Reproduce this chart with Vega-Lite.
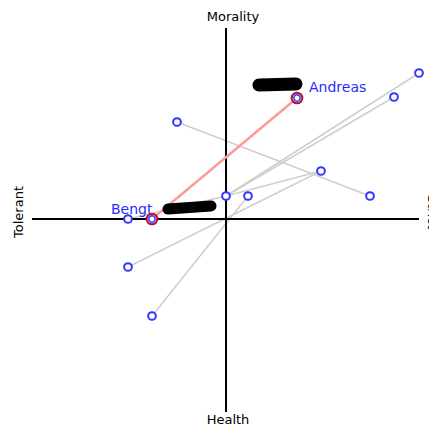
{
  "$schema": "https://vega.github.io/schema/vega-lite/v6.json",
  "width": 429,
  "height": 428,
  "autosize": "none",
  "padding": 0,
  "background": "white",
  "config": {"view": {"stroke": null}},
  "datasets": {
    "axes": [
      {"x": -1.94, "x2": 1.93, "y": 0, "y2": 0},
      {"x": 0, "x2": 0, "y": -1.93, "y2": 1.91}
    ],
    "links": [
      {"x": -0.49, "y": 0.97, "x2": 1.44, "y2": 0.23},
      {"x": -0.98, "y": -0.48, "x2": 0.95, "y2": 0.48},
      {"x": -0.74, "y": -0.97, "x2": 0.22, "y2": 0.23},
      {"x": 0.0, "y": 0.23, "x2": 0.95, "y2": 0.48},
      {"x": 0.0, "y": 0.23, "x2": 1.93, "y2": 1.46},
      {"x": 0.0, "y": 0.23, "x2": 1.68, "y2": 1.22},
      {"x": -0.98, "y": 0.0, "x2": 0.0, "y2": 0.23}
    ],
    "highlight": [
      {"x": -0.74, "y": 0.0, "x2": 0.71, "y2": 1.21}
    ],
    "redact": [
      {"x": 0.33, "y": 1.34, "x2": 0.70, "y2": 1.35, "w": 13},
      {"x": -0.58, "y": 0.10, "x2": -0.15, "y2": 0.13, "w": 11}
    ],
    "points": [
      {"x": -0.49, "y": 0.97},
      {"x": 1.44, "y": 0.23},
      {"x": 0.95, "y": 0.48},
      {"x": -0.98, "y": -0.48},
      {"x": -0.74, "y": -0.97},
      {"x": 0.22, "y": 0.23},
      {"x": -0.98, "y": 0.0},
      {"x": 0.0, "y": 0.23},
      {"x": 1.93, "y": 1.46},
      {"x": 1.68, "y": 1.22}
    ],
    "people": [
      {"name": "Bengt", "x": -0.74, "y": 0.0, "lx": -1.15, "ly": 0.05},
      {"name": "Andreas", "x": 0.71, "y": 1.21, "lx": 0.83, "ly": 1.27}
    ],
    "axislabels": [
      {"label": "Morality", "x": 0.07, "y": 2.02, "angle": 0},
      {"label": "Health", "x": 0.02, "y": -2.01, "angle": 0},
      {"label": "Tolerant", "x": -2.07, "y": 0.07, "angle": 270},
      {"label": "Strict", "x": 2.06, "y": 0.07, "angle": 90}
    ]
  },
  "resolve": {"scale": {"x": "shared", "y": "shared"}},
  "layer": [
    {
      "data": {"name": "links"},
      "mark": {"type": "rule", "color": "#cfcfcf", "strokeWidth": 1.5},
      "encoding": {
        "x": {"field": "x", "type": "quantitative", "scale": {"domain": [-2.26, 2.03], "nice": false, "zero": false}, "axis": null},
        "y": {"field": "y", "type": "quantitative", "scale": {"domain": [-2.09, 2.19], "nice": false, "zero": false}, "axis": null},
        "x2": {"field": "x2"},
        "y2": {"field": "y2"}
      }
    },
    {
      "data": {"name": "axes"},
      "mark": {"type": "rule", "color": "black", "strokeWidth": 2},
      "encoding": {
        "x": {"field": "x", "type": "quantitative"},
        "y": {"field": "y", "type": "quantitative"},
        "x2": {"field": "x2"},
        "y2": {"field": "y2"}
      }
    },
    {
      "data": {"name": "highlight"},
      "mark": {"type": "rule", "color": "#ff9a9a", "strokeWidth": 2.5},
      "encoding": {
        "x": {"field": "x", "type": "quantitative"},
        "y": {"field": "y", "type": "quantitative"},
        "x2": {"field": "x2"},
        "y2": {"field": "y2"}
      }
    },
    {
      "data": {"name": "people"},
      "mark": {"type": "text", "color": "#2a2aff", "font": "DejaVu Sans", "fontSize": 14, "align": "left", "baseline": "alphabetic"},
      "encoding": {
        "x": {"field": "lx", "type": "quantitative"},
        "y": {"field": "ly", "type": "quantitative"},
        "text": {"field": "name"}
      }
    },
    {
      "data": {"name": "redact"},
      "mark": {"type": "rule", "color": "black", "strokeCap": "round"},
      "encoding": {
        "x": {"field": "x", "type": "quantitative"},
        "y": {"field": "y", "type": "quantitative"},
        "x2": {"field": "x2"},
        "y2": {"field": "y2"},
        "strokeWidth": {"field": "w", "type": "quantitative", "scale": null}
      }
    },
    {
      "data": {"name": "points"},
      "mark": {"type": "point", "shape": "circle", "filled": false, "fill": "white", "fillOpacity": 1, "stroke": "#3535ff", "strokeWidth": 2, "size": 60, "opacity": 1},
      "encoding": {
        "x": {"field": "x", "type": "quantitative"},
        "y": {"field": "y", "type": "quantitative"}
      }
    },
    {
      "data": {"name": "people"},
      "mark": {"type": "point", "shape": "circle", "filled": false, "fill": "white", "fillOpacity": 1, "stroke": "#b01030", "strokeWidth": 2, "size": 115, "opacity": 1},
      "encoding": {
        "x": {"field": "x", "type": "quantitative"},
        "y": {"field": "y", "type": "quantitative"}
      }
    },
    {
      "data": {"name": "people"},
      "mark": {"type": "point", "shape": "circle", "filled": false, "fill": "white", "fillOpacity": 1, "stroke": "#3535ff", "strokeWidth": 1.5, "size": 40, "opacity": 1},
      "encoding": {
        "x": {"field": "x", "type": "quantitative"},
        "y": {"field": "y", "type": "quantitative"}
      }
    },
    {
      "data": {"name": "axislabels"},
      "mark": {"type": "text", "color": "black", "font": "DejaVu Sans", "fontSize": 13, "align": "center", "baseline": "middle"},
      "encoding": {
        "x": {"field": "x", "type": "quantitative"},
        "y": {"field": "y", "type": "quantitative"},
        "text": {"field": "label"},
        "angle": {"field": "angle", "type": "quantitative", "scale": null}
      }
    }
  ]
}
